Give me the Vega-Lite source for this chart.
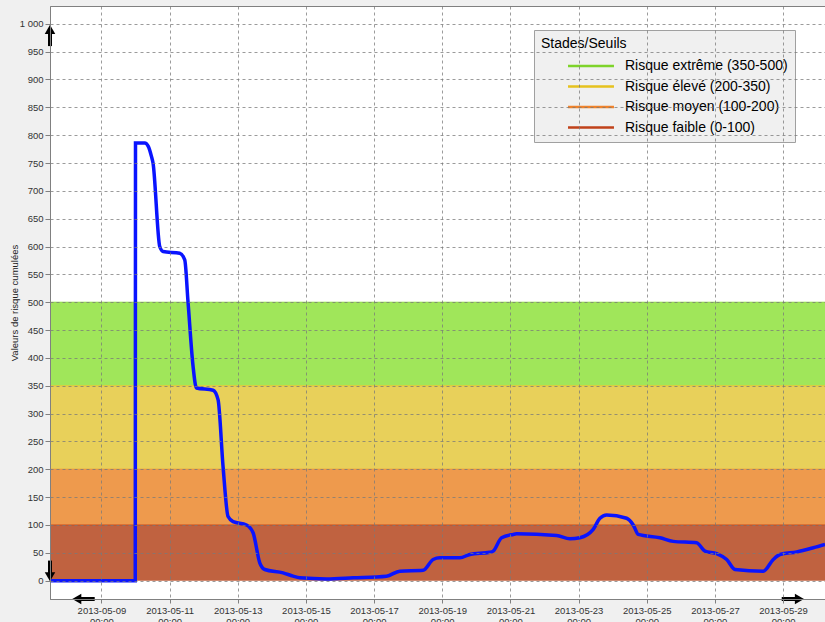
{
  "$schema": "https://vega.github.io/schema/vega-lite/v6.json",
  "width": 775,
  "height": 593,
  "autosize": {"type": "none"},
  "padding": {"left": 50, "top": 6, "right": 0, "bottom": 23},
  "background": "#f0f0f0",
  "config": {
    "view": {"stroke": "#808080", "fill": "white"},
    "axis": {
      "labelFont": "Liberation Sans",
      "labelFontSize": 9.5,
      "labelColor": "#333333",
      "titleFont": "Liberation Sans",
      "titleColor": "#222222",
      "domainColor": "#808080",
      "tickColor": "#808080",
      "gridColor": "#7a7a7a",
      "gridOpacity": 0.75,
      "gridDash": [3, 3],
      "gridWidth": 1
    }
  },
  "datasets": {
    "bands": [
      {"stade": "Risque extrême (350-500)", "lo": 350, "hi": 500},
      {"stade": "Risque élevé (200-350)", "lo": 200, "hi": 350},
      {"stade": "Risque moyen (100-200)", "lo": 100, "hi": 200},
      {"stade": "Risque faible (0-100)", "lo": 0, "hi": 100}
    ],
    "series": [
      {"t": "2013-05-07T11:48", "v": 0},
      {"t": "2013-05-09T23:50", "v": 0},
      {"t": "2013-05-10T00:00", "v": 786},
      {"t": "2013-05-10T06:30", "v": 786},
      {"t": "2013-05-10T09:00", "v": 780},
      {"t": "2013-05-10T11:14", "v": 762},
      {"t": "2013-05-10T12:21", "v": 750},
      {"t": "2013-05-10T17:04", "v": 600},
      {"t": "2013-05-10T19:24", "v": 591},
      {"t": "2013-05-11T07:10", "v": 588},
      {"t": "2013-05-11T10:41", "v": 576},
      {"t": "2013-05-11T13:00", "v": 500},
      {"t": "2013-05-11T16:32", "v": 385},
      {"t": "2013-05-11T18:55", "v": 346},
      {"t": "2013-05-12T06:37", "v": 342},
      {"t": "2013-05-12T10:08", "v": 325},
      {"t": "2013-05-12T13:39", "v": 205},
      {"t": "2013-05-12T17:11", "v": 115},
      {"t": "2013-05-12T20:42", "v": 106},
      {"t": "2013-05-13T06:09", "v": 100},
      {"t": "2013-05-13T10:48", "v": 86},
      {"t": "2013-05-13T15:30", "v": 32},
      {"t": "2013-05-13T19:02", "v": 20},
      {"t": "2013-05-14T07:55", "v": 14},
      {"t": "2013-05-14T14:58", "v": 8},
      {"t": "2013-05-14T19:41", "v": 5},
      {"t": "2013-05-15T14:30", "v": 3},
      {"t": "2013-05-16T09:14", "v": 5},
      {"t": "2013-05-17T08:45", "v": 8},
      {"t": "2013-05-17T18:07", "v": 17},
      {"t": "2013-05-18T10:32", "v": 18.5},
      {"t": "2013-05-18T17:35", "v": 38},
      {"t": "2013-05-18T22:19", "v": 41},
      {"t": "2013-05-19T12:24", "v": 41},
      {"t": "2013-05-19T19:27", "v": 47},
      {"t": "2013-05-20T09:32", "v": 51},
      {"t": "2013-05-20T11:51", "v": 53},
      {"t": "2013-05-20T17:47", "v": 77},
      {"t": "2013-05-21T01:57", "v": 83},
      {"t": "2013-05-21T04:20", "v": 84},
      {"t": "2013-05-22T08:31", "v": 81},
      {"t": "2013-05-22T17:53", "v": 75},
      {"t": "2013-05-23T00:56", "v": 77},
      {"t": "2013-05-23T10:18", "v": 92},
      {"t": "2013-05-23T15:01", "v": 112},
      {"t": "2013-05-23T19:44", "v": 118},
      {"t": "2013-05-24T09:50", "v": 112},
      {"t": "2013-05-24T14:29", "v": 100},
      {"t": "2013-05-24T18:00", "v": 83},
      {"t": "2013-05-25T09:16", "v": 77},
      {"t": "2013-05-25T18:38", "v": 70.5},
      {"t": "2013-05-26T11:08", "v": 68},
      {"t": "2013-05-26T16:58", "v": 53},
      {"t": "2013-05-27T01:13", "v": 48.5},
      {"t": "2013-05-27T08:16", "v": 38},
      {"t": "2013-05-27T14:07", "v": 20},
      {"t": "2013-05-28T10:03", "v": 17},
      {"t": "2013-05-28T17:05", "v": 38},
      {"t": "2013-05-28T21:49", "v": 47},
      {"t": "2013-05-29T09:34", "v": 51.5},
      {"t": "2013-05-29T21:16", "v": 59},
      {"t": "2013-05-30T05:31", "v": 65}
    ],
    "shafts": [
      {"t1": "2013-05-07T11:48", "t2": "2013-05-07T11:48", "v1": 960, "v2": 985},
      {"t1": "2013-05-07T11:48", "t2": "2013-05-07T11:48", "v1": 36, "v2": 12},
      {"t1": "2013-05-08T09:30", "t2": "2013-05-08T19:17", "v1": -33, "v2": -33},
      {"t1": "2013-05-28T23:01", "t2": "2013-05-29T08:30", "v1": -33, "v2": -33}
    ],
    "heads": [
      {"t": "2013-05-07T11:48", "v": 990, "dir": "up"},
      {"t": "2013-05-07T11:48", "v": 7, "dir": "down"},
      {"t": "2013-05-08T06:40", "v": -33, "dir": "left"},
      {"t": "2013-05-29T11:30", "v": -33, "dir": "right"}
    ]
  },
  "layer": [
    {
      "data": {"name": "bands"},
      "mark": {"type": "rect"},
      "encoding": {
        "y": {
          "field": "lo",
          "type": "quantitative",
          "scale": {"domain": [-33, 1032], "nice": false, "zero": false},
          "axis": {
            "tickCount": 21,
            "labelExpr": "datum.value == 1000 ? '1 000' : datum.label",
            "labelOverlap": false,
            "title": "Valeurs de risque cumulées",
            "titleFontSize": 9.5,
            "titleFontWeight": "normal",
            "titlePadding": 0,
            "tickSize": 5,
            "grid": true,
            "zindex": 1
          }
        },
        "y2": {"field": "hi"},
        "fill": {
          "field": "stade",
          "type": "nominal",
          "scale": {
            "domain": ["Risque faible (0-100)", "Risque moyen (100-200)", "Risque élevé (200-350)", "Risque extrême (350-500)"],
            "range": ["#c06240", "#ee9a4d", "#e8d05a", "#a0e65a"]
          },
          "legend": null
        }
      }
    },
    {
      "data": {"name": "bands"},
      "mark": {"type": "rule", "strokeWidth": 1, "opacity": 0.8},
      "encoding": {
        "y": {"field": "hi", "type": "quantitative"},
        "stroke": {
          "field": "stade",
          "type": "nominal",
          "scale": {
            "domain": ["Risque extrême (350-500)", "Risque élevé (200-350)", "Risque moyen (100-200)", "Risque faible (0-100)"],
            "range": ["#7ed32a", "#e6c21e", "#f0822a", "#c0421a"]
          },
          "legend": {
            "title": "Stades/Seuils",
            "orient": "none",
            "legendX": 484,
            "legendY": 24,
            "fillColor": "#f0f0f0",
            "strokeColor": "#a0a0a0",
            "padding": 7,
            "symbolType": "M-4,0H4",
            "symbolSize": 132,
            "symbolStrokeWidth": 2.5,
            "symbolOpacity": 1,
            "symbolOffset": 43,
            "labelOffset": 27,
            "labelFont": "Liberation Sans",
            "labelFontSize": 14,
            "labelColor": "black",
            "titleFont": "Liberation Sans",
            "titleFontSize": 14,
            "titleFontWeight": "normal",
            "titleColor": "black",
            "titlePadding": 8,
            "rowPadding": 6.5,
            "labelLimit": 300
          }
        }
      }
    },
    {
      "data": {"name": "series"},
      "mark": {"type": "line", "interpolate": "monotone", "color": "#0a14ff", "strokeWidth": 3.5},
      "encoding": {
        "x": {
          "field": "t",
          "type": "temporal",
          "scale": {
            "domain": [
              {"year": 2013, "month": 5, "date": 7, "hours": 11, "minutes": 48},
              {"year": 2013, "month": 5, "date": 30, "hours": 5, "minutes": 30}
            ]
          },
          "axis": {
            "tickCount": {"interval": "day", "step": 2},
            "labelExpr": "[timeFormat(datum.value, '%Y-%m-%d'), timeFormat(datum.value, '%H:%M')]",
            "title": null,
            "tickSize": 4,
            "labelPadding": 2,
            "labelLineHeight": 11,
            "labelFlush": false,
            "labelOverlap": false,
            "grid": true,
            "zindex": 1
          }
        },
        "y": {"field": "v", "type": "quantitative"}
      }
    },
    {
      "data": {"name": "shafts"},
      "mark": {"type": "rule", "color": "black", "strokeWidth": 4},
      "encoding": {
        "x": {"field": "t1", "type": "temporal"},
        "x2": {"field": "t2"},
        "y": {"field": "v1", "type": "quantitative"},
        "y2": {"field": "v2"}
      }
    },
    {
      "data": {"name": "heads"},
      "mark": {"type": "point", "filled": true, "color": "black", "opacity": 1, "size": 110},
      "encoding": {
        "x": {"field": "t", "type": "temporal"},
        "y": {"field": "v", "type": "quantitative"},
        "shape": {
          "field": "dir",
          "type": "nominal",
          "scale": {"domain": ["up", "down", "left", "right"], "range": ["triangle-up", "triangle-down", "triangle-left", "triangle-right"]},
          "legend": null
        }
      }
    }
  ]
}
